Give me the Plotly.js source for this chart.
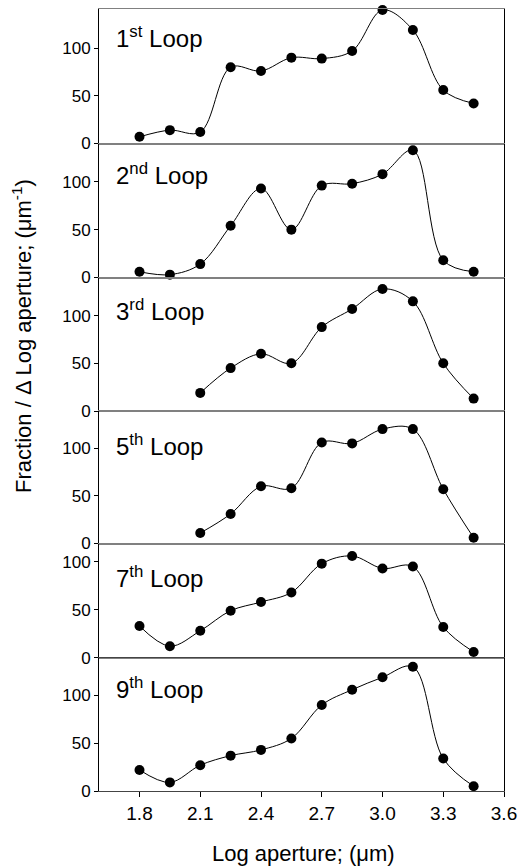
<!DOCTYPE html>
<html>
<head>
<meta charset="utf-8">
<script src="https://cdn.plot.ly/plotly-3.0.1.min.js"></script>
<style>html,body{margin:0;padding:0;background:#fff;}#chart{width:526px;height:868px;}</style>
</head>
<body>
<div id="chart"></div>
<script>
// Log aperture (x) positions
const logAperture = [1.8, 1.95, 2.1, 2.25, 2.4, 2.55, 2.7, 2.85, 3.0, 3.15, 3.3, 3.45];
const xTicks = [1.8, 2.1, 2.4, 2.7, 3.0, 3.3, 3.6];
const yTicks = [0, 50, 100];

// Fraction / Δ Log aperture per loop (null = no measurement)
const loop1 = [7, 14, 12, 80, 76, 90, 89, 97, 140, 119, 56, 42];
const loop2 = [6, 3, 14, 54, 93, 50, 96, 98, 108, 133, 18, 6];
const loop3 = [null, null, 19, 45, 60, 50, 88, 107, 128, 115, 50, 13];
const loop5 = [null, null, 11, 31, 60, 58, 106, 105, 120, 120, 57, 6];
const loop7 = [33, 12, 28, 49, 58, 68, 98, 106, 93, 95, 32, 6];
const loop9 = [22, 9, 27, 37, 43, 55, 90, 106, 119, 130, 34, 5];

const loopSeries = [loop1, loop2, loop3, loop5, loop7, loop9];
const loopNames = ['1', '2', '3', '5', '7', '9'];
const loopSuffix = ['st', 'nd', 'rd', 'th', 'th', 'th'];

const font = 'Arial, "Liberation Sans", sans-serif';

// layout geometry (pixels from top of page)
const bounds = [9, 143.5, 277.5, 411, 543.5, 657.7, 791];
const yMax = [141, 140, 140, 139, 119, 139.5];
const labelY = [0.79, 0.775, 0.76, 0.745, 0.705, 0.77];
const T = 9, B = 791, H = B - T;

const traces = [];
const layout = {
  width: 526, height: 868,
  margin: {l: 99, r: 22, t: 9, b: 77},
  paper_bgcolor: '#fff', plot_bgcolor: '#fff',
  showlegend: false,
  font: {family: font, color: '#000'},
  annotations: []
};

loopSeries.forEach((vals, i) => {
  const n = i + 1;
  const xa = n === 1 ? 'x' : 'x' + n;
  const ya = n === 1 ? 'y' : 'y' + n;
  const xk = n === 1 ? 'xaxis' : 'xaxis' + n;
  const yk = n === 1 ? 'yaxis' : 'yaxis' + n;
  const top = bounds[i], bot = bounds[i + 1];
  const dom = [(B - bot) / H, (B - top) / H];
  traces.push({
    x: logAperture, y: vals, xaxis: xa, yaxis: ya,
    mode: 'lines', type: 'scatter', connectgaps: false,
    line: {shape: 'spline', smoothing: 1, color: '#000', width: 1},
    hoverinfo: 'skip'
  });
  traces.push({
    x: logAperture, y: vals, xaxis: xa, yaxis: ya,
    mode: 'markers', type: 'scatter', cliponaxis: false,
    marker: {size: 10, color: '#000'}
  });
  const isBottom = (i === loopSeries.length - 1);
  layout[xk] = {
    anchor: ya, range: [1.6, 3.6], domain: [0, 1],
    showline: true, mirror: true, linecolor: isBottom ? '#444' : '#808080', linewidth: 1,
    showgrid: false, zeroline: false,
    tickvals: xTicks, tickformat: '.1f',
    ticks: isBottom ? 'outside' : '', ticklen: 5, tickcolor: '#000',
    showticklabels: isBottom,
    tickfont: {size: 19, family: font, color: '#000'}
  };
  if (!isBottom) layout[xk].matches = 'x6';
  layout[yk] = {
    anchor: xa, domain: dom, range: [0, yMax[i]],
    showline: true, mirror: true, linecolor: '#000', linewidth: 1,
    showgrid: false, zeroline: false,
    tickvals: yTicks, ticks: 'outside', ticklen: 4, tickcolor: '#000',
    tickfont: {size: 17, family: font, color: '#000'}
  };
  layout.annotations.push({
    xref: 'paper', yref: ya + ' domain',
    x: 0.037, y: labelY[i], xanchor: 'left', yanchor: 'middle',
    text: loopNames[i] + '<sup>' + loopSuffix[i] + '</sup> Loop',
    showarrow: false, font: {size: 24, family: font, color: '#000'}
  });
});

layout.annotations.push({
  xref: 'paper', yref: 'paper', x: 0.504, y: -0.08,
  xanchor: 'center', yanchor: 'middle',
  text: 'Log aperture; (\u03bcm)', showarrow: false,
  font: {size: 22, family: font, color: '#000'}
});
layout.annotations.push({
  xref: 'paper', yref: 'paper', x: -0.19, y: 0.582,
  xanchor: 'center', yanchor: 'middle', textangle: -90,
  text: 'Fraction / \u0394 Log aperture; (\u03bcm<sup>-1</sup>)', showarrow: false,
  font: {size: 22, family: font, color: '#000'}
});

Plotly.newPlot('chart', traces, layout, {displayModeBar: false, staticPlot: true});
</script>
</body>
</html>
